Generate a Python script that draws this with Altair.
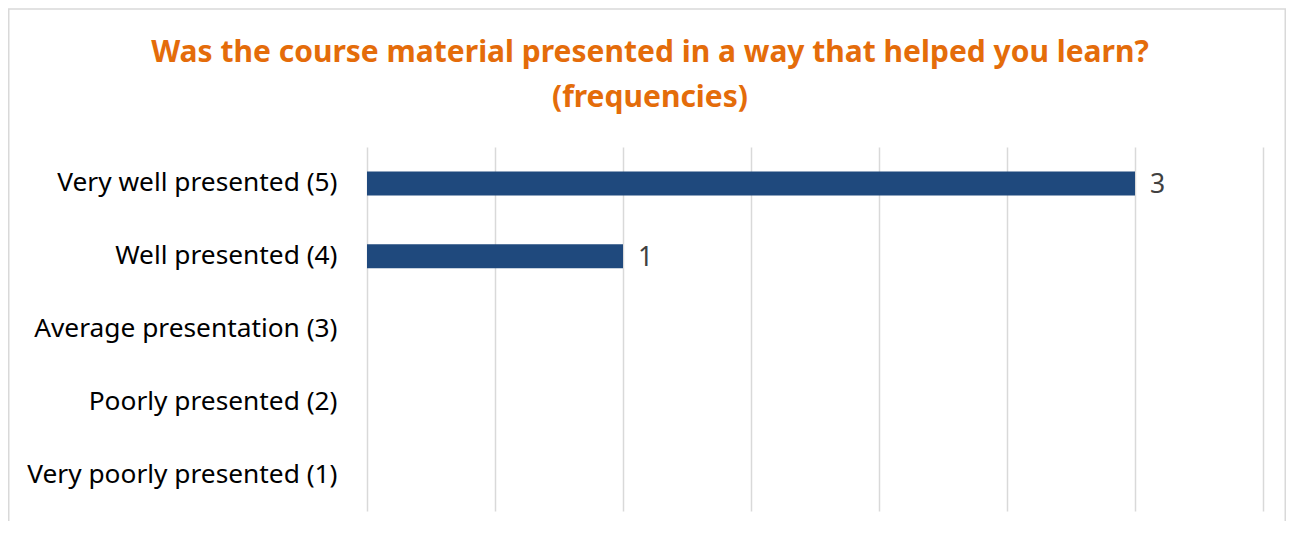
import altair as alt
import pandas as pd

categories = [
    "Very well presented (5)",
    "Well presented (4)",
    "Average presentation (3)",
    "Poorly presented (2)",
    "Very poorly presented (1)",
]
counts = [3, 1, 0, 0, 0]
x_ticks = [0, 0.5, 1, 1.5, 2, 2.5, 3, 3.5]
title_lines = ["Was the course material presented in a way that helped you learn?", "(frequencies)"]

df = pd.DataFrame({"category": categories, "count": counts})

FONT = "Noto Sans"

y_enc = alt.Y(
    "category:N",
    sort=categories,
    title=None,
    scale=alt.Scale(paddingInner=0.67, paddingOuter=0.335),
    axis=alt.Axis(
        labelFontSize=26.3,
        labelFont=FONT,
        labelColor="#000000",
        labelPadding=30,
        ticks=False,
        domain=False,
        grid=False,
        labelLimit=400,
    ),
)
x_enc = alt.X(
    "count:Q",
    title=None,
    scale=alt.Scale(domain=[0, 3.5], nice=False),
    axis=alt.Axis(
        values=x_ticks,
        labels=False,
        ticks=False,
        domain=False,
        grid=True,
        gridColor="#D9D9D9",
        gridWidth=1.5,
    ),
)

bars = alt.Chart(df).mark_bar(color="#1F497D").encode(x=x_enc, y=y_enc)

labels = (
    alt.Chart(df)
    .transform_filter("datum.count > 0")
    .mark_text(align="left", baseline="middle", dx=15, dy=2, fontSize=26.5, font=FONT, color="#404040")
    .encode(
        x=alt.X("count:Q"),
        y=alt.Y("category:N", sort=categories),
        text="count:Q",
    )
)

frame = (
    alt.Chart(df)
    .transform_filter("datum.count == 3")
    .mark_rect(fill="transparent", stroke="#D9D9D9", strokeWidth=1.5)
    .encode(
        x=alt.value(-358.25),
        x2=alt.value(918.25),
        y=alt.value(-138),
        y2=alt.value(430),
    )
)

title_df = pd.DataFrame({"line": title_lines, "pos": [0, 1]})
title_style = dict(
    align="center",
    baseline="middle",
    font=FONT,
    fontSize=30,
    fontWeight="bold",
    color="#E46C0A",
)
title_line1 = (
    alt.Chart(title_df)
    .transform_filter("datum.pos == 0")
    .mark_text(**title_style)
    .encode(text="line:N", x=alt.value(283), y=alt.value(-94))
)
title_line2 = (
    alt.Chart(title_df)
    .transform_filter("datum.pos == 1")
    .mark_text(**title_style)
    .encode(text="line:N", x=alt.value(283), y=alt.value(-49))
)

chart = (
    alt.layer(frame, bars, labels, title_line1, title_line2)
    .properties(
        width=896,
        height=364,
        background="white",
        autosize=alt.AutoSizeParams(type="none"),
        padding={"left": 359, "top": 139, "right": 23, "bottom": 10},
    )
    .configure_view(stroke="transparent", strokeWidth=0)
    .configure_axis(domain=False, ticks=False)
)

chart.save("out.html", embed_options={"renderer": "svg", "actions": False})
